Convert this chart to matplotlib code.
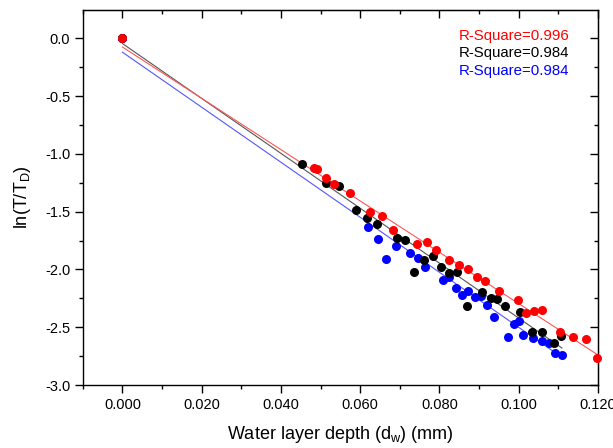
import matplotlib
matplotlib.use("Agg")
import matplotlib.pyplot as plt
from matplotlib.ticker import MultipleLocator, FormatStrFormatter

plt.rcParams['font.family'] = ['Liberation Sans', 'DejaVu Sans']
plt.rcParams['mathtext.default'] = 'regular'

# depth (mm) / ln(T/TD)
red_x = [0.0, 0.0483, 0.049, 0.0514, 0.0534, 0.0574, 0.0625, 0.0654, 0.0682, 0.0743,
         0.0768, 0.0792, 0.0823, 0.0849, 0.0872, 0.0895, 0.0916, 0.095, 0.0997, 0.1018,
         0.1039, 0.106, 0.1104, 0.1138, 0.117, 0.1197]
red_y = [0.0, -1.125, -1.13, -1.206, -1.263, -1.336, -1.503, -1.534, -1.658, -1.78,
         -1.762, -1.83, -1.918, -1.964, -1.996, -2.062, -2.097, -2.183, -2.264, -2.374,
         -2.359, -2.353, -2.538, -2.581, -2.60, -2.77]

black_x = [0.0, 0.0454, 0.0515, 0.0546, 0.059, 0.0616, 0.0642, 0.0694, 0.0713, 0.0737,
           0.0762, 0.0783, 0.0804, 0.0825, 0.0845, 0.087, 0.0907, 0.0931, 0.0946, 0.0965,
           0.1003, 0.1034, 0.106, 0.1088, 0.1107]
black_y = [0.0, -1.09, -1.254, -1.275, -1.485, -1.557, -1.609, -1.725, -1.745, -2.02,
           -1.918, -1.88, -1.976, -2.033, -2.019, -2.316, -2.195, -2.249, -2.255, -2.313,
           -2.37, -2.538, -2.538, -2.638, -2.575]

blue_x = [0.0, 0.062, 0.0645, 0.0665, 0.0691, 0.0726, 0.0745, 0.0764, 0.0808, 0.0825,
          0.0842, 0.0857, 0.0873, 0.089, 0.0904, 0.092, 0.0938, 0.0973, 0.0989, 0.1001,
          0.101, 0.1037, 0.1058, 0.1076, 0.1092, 0.1109]
blue_y = [0.0, -1.63, -1.736, -1.906, -1.80, -1.86, -1.90, -1.98, -2.09, -2.067,
          -2.157, -2.22, -2.183, -2.235, -2.229, -2.307, -2.414, -2.587, -2.474, -2.443,
          -2.567, -2.595, -2.616, -2.633, -2.72, -2.742]

# linear fits (end points)
red_fit_x = [0.0, 0.12]
red_fit_y = [-0.075, -2.74]
black_fit_x = [0.0, 0.1109]
black_fit_y = [-0.045, -2.68]
blue_fit_x = [0.0, 0.1113]
blue_fit_y = [-0.12, -2.77]

r2_labels = ["R-Square=0.996", "R-Square=0.984", "R-Square=0.984"]

fig = plt.figure(figsize=(6.13, 4.48), dpi=100)
ax = fig.add_axes([0.135, 0.1406, 0.8405, 0.8371])

ax.plot(black_fit_x, black_fit_y, color="#555555", lw=0.8, zorder=2)
ax.plot(red_fit_x, red_fit_y, color="#ff5555", lw=0.8, zorder=2)
ax.plot(blue_fit_x, blue_fit_y, color="#5555ff", lw=0.8, zorder=2)

ax.plot(blue_x, blue_y, 'o', color="#0000ff", ms=6.5, mec="none", zorder=3, clip_on=False)
ax.plot(black_x, black_y, 'o', color="black", ms=6.5, mec="none", zorder=4, clip_on=False)
ax.plot(red_x, red_y, 'o', color="#ff0000", ms=6.5, mec="none", zorder=5, clip_on=False)

cols = ["#ff0000", "black", "#0000ff"]
for i, t in enumerate(r2_labels):
    ax.text(0.729, 0.931 - i * 0.047, t, color=cols[i], fontsize=10.8,
            transform=ax.transAxes, va="center")

ax.set_xlim(-0.01, 0.12)
ax.set_ylim(-3.0, 0.245)
ax.xaxis.set_major_locator(MultipleLocator(0.02))
ax.xaxis.set_minor_locator(MultipleLocator(0.01))
ax.yaxis.set_major_locator(MultipleLocator(0.5))
ax.yaxis.set_minor_locator(MultipleLocator(0.25))
ax.xaxis.set_major_formatter(FormatStrFormatter("%.3f"))
ax.yaxis.set_major_formatter(FormatStrFormatter("%.1f"))

ax.tick_params(which="both", direction="out", top=False, right=False, labelsize=10.5, width=1)
ax.tick_params(which="major", length=5.5)
ax.tick_params(which="minor", length=3)
for sp in ax.spines.values():
    sp.set_linewidth(1.0)

# mirrored inward ticks on top and right
sec = ax.secondary_xaxis("top")
sec.xaxis.set_major_locator(MultipleLocator(0.02))
sec.xaxis.set_minor_locator(MultipleLocator(0.01))
sec.tick_params(which="both", direction="in", labeltop=False, width=1)
sec.tick_params(which="major", length=5.5)
sec.tick_params(which="minor", length=3)
sec2 = ax.secondary_yaxis("right")
sec2.yaxis.set_major_locator(MultipleLocator(0.5))
sec2.yaxis.set_minor_locator(MultipleLocator(0.25))
sec2.tick_params(which="both", direction="in", labelright=False, width=1)
sec2.tick_params(which="major", length=5.5)
sec2.tick_params(which="minor", length=3)

ax.set_xlabel("Water layer depth (d$_w$) (mm)", fontsize=13, labelpad=9)
ax.set_ylabel("ln(T/T$_D$)", fontsize=13, labelpad=9)

fig.savefig("out.png", dpi=100)
